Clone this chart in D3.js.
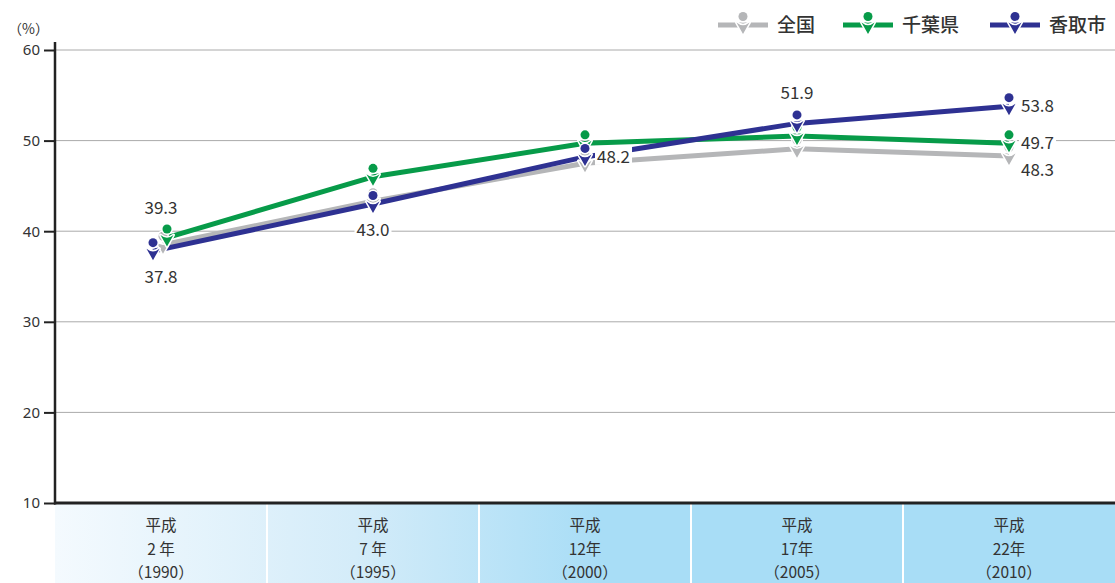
<!DOCTYPE html>
<html><head><meta charset="utf-8">
<script src="https://cdn.jsdelivr.net/npm/d3@7"></script>
<style>
body{margin:0;background:#fff;}
text{font-family:"Noto Sans CJK JP","Noto Sans",sans-serif;fill:#333;}
</style></head>
<body><svg id="c" width="1115" height="583"></svg>
<script>
const categories = ["平成\n2 年\n（1990）","平成\n7 年\n（1995）","平成\n12年\n（2000）","平成\n17年\n（2005）","平成\n22年\n（2010）"];
const seriesNames = ["全国","千葉県","香取市"];
const national = [38.5, 43.3, 47.5, 49.1, 48.3];
const chiba = [39.3, 46.0, 49.7, 50.5, 49.7];
const katori = [37.8, 43.0, 48.2, 51.9, 53.8];
const yTicks = [10,20,30,40,50,60];
const colors = ["#b5b6b8","#079b49","#2e3192"];
// labels: [seriesIndex, pointIndex, position]
const labels = [[1,0,"top"],[2,0,"bottom"],[2,1,"bottom"],[2,2,"right"],[2,3,"top"],[2,4,"right"],[1,4,"right"],[0,4,"rightlow"]];

const svg = d3.select("#c");
const W=1115, H=583, L=55, R=1115, T=50, B=503;
const x = d3.scaleBand().domain(d3.range(categories.length)).range([L,R]).padding(0);
const y = d3.scaleLinear().domain([10,60]).range([B,T]);
const cx = i => x(i)+x.bandwidth()/2;
// small horizontal nudges of the first point so overlapping markers stay visible
const firstNudge = [2, 6, -8];
const px = (k,i) => cx(i) + (i===0 ? firstNudge[k] : 0);

// bottom band gradient
const defs = svg.append("defs");
const g = defs.append("linearGradient").attr("id","bg").attr("gradientUnits","userSpaceOnUse")
  .attr("x1",L).attr("x2",600).attr("y1",0).attr("y2",0);
g.append("stop").attr("offset",0).attr("stop-color","#f4fafe");
g.append("stop").attr("offset",0.55).attr("stop-color","#d4ecf9");
g.append("stop").attr("offset",1).attr("stop-color","#a8ddf6");
svg.append("rect").attr("x",L).attr("y",B).attr("width",R-L).attr("height",H-B).attr("fill","url(#bg)");
categories.forEach((c,i)=>{ if(i>0) svg.append("line").attr("x1",x(i)).attr("x2",x(i)).attr("y1",B).attr("y2",H).attr("stroke","#fff").attr("stroke-width",2);});
categories.forEach((c,i)=>{
  const t = svg.append("text").attr("text-anchor","middle").style("font-size","15.5px");
  c.split("\n").forEach((s,k)=>t.append("tspan").attr("x",cx(i)).attr("y",531+k*23.5).text(s));
});

// grid
svg.append("g").selectAll("line").data(yTicks.filter(d=>d>10)).join("line")
  .attr("x1",L).attr("x2",R).attr("y1",d=>y(d)).attr("y2",d=>y(d)).attr("stroke","#aaa").attr("stroke-width",1);

// y axis
const ya = svg.append("g").attr("transform",`translate(${L},0)`)
  .call(d3.axisLeft(y).tickValues(yTicks).tickSize(11).tickPadding(4));
ya.select(".domain").remove();
ya.selectAll(".tick line").attr("stroke","#222").attr("stroke-width",2);
ya.selectAll(".tick text").style("font-size","15px").style("fill","#333").style("font-family","'Noto Sans',sans-serif");
svg.append("line").attr("x1",L).attr("x2",L).attr("y1",42).attr("y2",B+1.5).attr("stroke","#222").attr("stroke-width",2.5);
svg.append("line").attr("x1",L-1).attr("x2",R).attr("y1",B).attr("y2",B).attr("stroke","#222").attr("stroke-width",3);
svg.append("text").attr("x",8).attr("y",34).style("font-size","14px").text("（%）");

// lines
const all = [national, chiba, katori];
all.forEach((s,k)=>{
  const line = d3.line().x((d,i)=>px(k,i)).y(d=>y(d));
  svg.append("path").datum(s).attr("d",line).attr("fill","none").attr("stroke",colors[k]).attr("stroke-width",5).attr("stroke-linejoin","round");
});

function marker(sel, mx, my, col){
  const m = sel.append("g").attr("transform",`translate(${mx},${my})`);
  m.append("circle").attr("cx",0).attr("cy",-8.5).attr("r",4.5).attr("fill",col).attr("stroke","#fff").attr("stroke-width",3);
  m.append("path").attr("d","M-6.5,-2.5 Q0,3 6.5,-2.5 L0,9 Z").attr("fill",col).attr("stroke","#fff").attr("stroke-width",3).attr("stroke-linejoin","round");
  m.append("circle").attr("cx",0).attr("cy",-8.5).attr("r",4.5).attr("fill",col);
  m.append("path").attr("d","M-6.5,-2.5 Q0,3 6.5,-2.5 L0,9 Z").attr("fill",col);
}
all.forEach((s,k)=>s.forEach((v,i)=>marker(svg,px(k,i),y(v),colors[k])));

// data labels
labels.forEach(([k,i,pos])=>{
  const v = all[k][i]; let lx=cx(i), ly=y(v), anchor="middle";
  if(pos==="top"){ly-=24;} else if(pos==="bottom"){ly+=32;} else if(pos==="right"){lx+=12;anchor="start";ly+=6;} else {lx+=12;anchor="start";ly+=20;}
  const t = svg.append("text").attr("x",lx).attr("y",ly).attr("text-anchor",anchor).style("font-size","17px").text(v.toFixed(1));
  const bb = t.node().getBBox();
  svg.insert("rect",()=>t.node()).attr("x",bb.x-2).attr("y",bb.y+3).attr("width",bb.width+4).attr("height",bb.height-6).attr("fill","#fff");
});

// legend
const legX = [718, 843, 990];
seriesNames.forEach((n,k)=>{
  const lx = legX[k], ly = 25;
  svg.append("line").attr("x1",lx).attr("x2",lx+50).attr("y1",ly).attr("y2",ly).attr("stroke",colors[k]).attr("stroke-width",5);
  marker(svg, lx+25, ly, colors[k]);
  svg.append("text").attr("x",lx+59).attr("y",ly+7).style("font-size","19px").style("font-weight",500).text(n);
});
</script></body></html>
